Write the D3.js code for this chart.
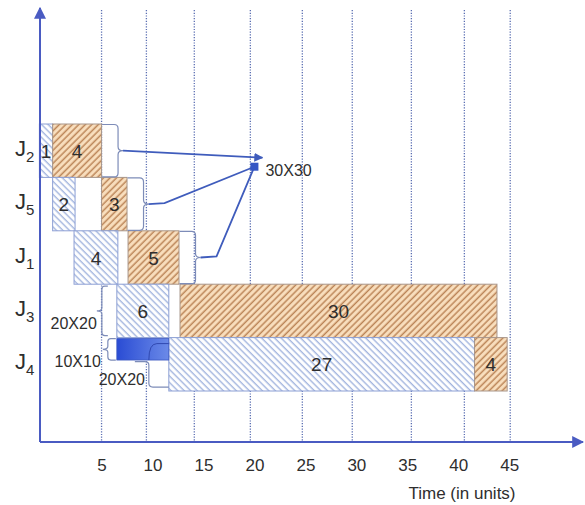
<!DOCTYPE html>
<html><head><meta charset="utf-8">
<script src="https://cdn.jsdelivr.net/npm/d3@7"></script>
<style>body{margin:0;background:#fff}svg{display:block}</style>
</head><body><svg id="c" width="585" height="505"></svg>
<script>
// ---------- data ----------
const jobs = ['J2','J5','J1','J3','J4'];
const opJob   = ['J2','J2','J5','J5','J1','J1','J3','J3','J4','J4'];
const opStart = [-1.1, 0.2, 0.2, 5.0, 2.3, 7.6, 6.5, 12.7, 11.6, 41.6];
const opEnd   = [ 0.2, 5.0, 2.4, 7.5, 6.6, 12.6, 11.6, 43.8, 41.6, 44.8];
const opLabel = ['1','4','2','3','4','5','6','30','27','4'];
const opKind  = ['blue','orange','blue','orange','blue','orange','blue','orange','blue','orange'];
const xTicks = [5,10,15,20,25,30,35,40,45];
const gridAt = [5, 9.4, 14.1, 19.6, 24.7, 29.6, 35.4, 40.6, 45.1];
const xTitle = 'Time (in units)';
const smallJob = 'J4', smallStart = 6.5, smallEnd = 11.6;
const mergeJobs = ['J2','J5','J1'];
const mergeAt = 20, mergeLabel = '30X30';
const noteLabels = ['20X20','10X10','20X20'];

// ---------- layout ----------
const svg = d3.select('#c');
const FONT = '"Liberation Sans", Arial, Helvetica, sans-serif';
const axisX = 40, axisY = 442, topY = 8, rightX = 583;
const x = d3.scaleLinear().domain([0,45]).range([50.6, 509.2]);
const y = d3.scaleBand().domain(jobs).range([124, 391]).padding(0);
const bw = y.bandwidth();
const axisCol = '#4a5bc2', lineCol = '#3f5cbc', braceCol = '#7d8cb8', txtCol = '#2e2e2e';

const defs = svg.append('defs');
function hatch(id, bg, fg, angle, w){
  const p = defs.append('pattern').attr('id', id).attr('patternUnits','userSpaceOnUse')
    .attr('width', 4.6).attr('height', 4.6).attr('patternTransform', `rotate(${angle})`);
  p.append('rect').attr('width', 4.6).attr('height', 4.6).attr('fill', bg);
  p.append('line').attr('x1', 1.2).attr('x2', 1.2).attr('y1', 0).attr('y2', 4.6)
    .attr('stroke', fg).attr('stroke-width', w);
}
hatch('hb', '#ffffff', '#a2b4de', -45, 1.4);
hatch('ho', '#f9dfbe', '#bb8456', 45, 1.5);
const g = defs.append('linearGradient').attr('id','gdark').attr('x1',0).attr('x2',1).attr('y1',0).attr('y2',0);
g.append('stop').attr('offset','0%').attr('stop-color','#2a4cd4');
g.append('stop').attr('offset','100%').attr('stop-color','#6b8ae8');
defs.append('marker').attr('id','ah').attr('viewBox','0 0 10 10').attr('refX',9).attr('refY',5)
  .attr('markerWidth',6).attr('markerHeight',6).attr('orient','auto')
  .append('path').attr('d','M0,0L10,5L0,10z').attr('fill', axisCol);
defs.append('marker').attr('id','ah2').attr('viewBox','0 0 10 10').attr('refX',9).attr('refY',5)
  .attr('markerWidth',5).attr('markerHeight',5).attr('orient','auto')
  .append('path').attr('d','M0,0L10,5L0,10z').attr('fill', lineCol);

// gridlines
svg.append('g').selectAll('line').data(gridAt).join('line')
  .attr('x1', d => x(d)).attr('x2', d => x(d)).attr('y1', 10).attr('y2', axisY)
  .attr('stroke', '#5a6eb2').attr('stroke-width', 1.3).attr('stroke-dasharray', '1.2,1.5');

// bars
const ops = opJob.map((j,i) => ({job:j, s:opStart[i], e:opEnd[i], label:opLabel[i], kind:opKind[i]}));
const bars = svg.append('g');
bars.selectAll('rect').data(ops).join('rect')
  .attr('x', d => x(d.s)).attr('y', d => y(d.job))
  .attr('width', d => x(d.e) - x(d.s)).attr('height', bw)
  .attr('fill', d => d.kind === 'blue' ? 'url(#hb)' : 'url(#ho)')
  .attr('stroke', d => d.kind === 'blue' ? '#8c9fd4' : '#a8968a').attr('stroke-width', 1);
bars.selectAll('text').data(ops).join('text')
  .attr('x', d => (x(d.s) + x(d.e)) / 2).attr('y', d => y(d.job) + bw/2 + 7)
  .attr('text-anchor','middle').attr('font-family', FONT).attr('font-size', 19).attr('fill', txtCol)
  .text(d => d.label);

// small dark block (10X10)
const bx0 = x(smallStart), bx1 = x(smallEnd), by0 = y(smallJob) + 1, by1 = y(smallJob) + bw*0.42;
svg.append('rect').attr('x', bx0).attr('y', by0).attr('width', bx1-bx0).attr('height', by1-by0)
  .attr('fill', 'url(#gdark)').attr('stroke', '#3a56c0').attr('stroke-width', 0.8);
svg.append('path').attr('d', `M${bx0+32},${by1} Q${bx0+32},${by0+5} ${bx0+40},${by0+5} L${bx1},${by0+5}`)
  .attr('fill','none').attr('stroke','#3048b0').attr('stroke-width', 1);

// braces
function braceR(x0, yt, yb, arm){
  const xa = x0 + arm, ym = (yt+yb)/2;
  return `M${x0},${yt} L${xa-4},${yt} Q${xa},${yt} ${xa},${yt+4} L${xa},${ym-4} Q${xa},${ym} ${xa+5},${ym}` +
         ` Q${xa},${ym} ${xa},${ym+4} L${xa},${yb-4} Q${xa},${yb} ${xa-4},${yb} L${x0},${yb}`;
}
function braceL(x0, yt, yb, arm){
  const xa = x0 - arm, ym = (yt+yb)/2;
  return `M${x0},${yt} L${xa+3},${yt} Q${xa},${yt} ${xa},${yt+3} L${xa},${ym-3} Q${xa},${ym} ${xa-5},${ym}` +
         ` Q${xa},${ym} ${xa},${ym+3} L${xa},${yb-3} Q${xa},${yb} ${xa+3},${yb} L${x0},${yb}`;
}
const tx = x(mergeAt), ty = y('J2') + bw*0.8;
mergeJobs.forEach((j, k) => {
  const endV = d3.max(ops.filter(o => o.job === j), o => o.e);
  const x0 = x(endV) + 0.5, yt = y(j) + 0.5, yb = y(j) + bw - 0.5;
  svg.append('path').attr('d', braceR(x0, yt, yb, 16)).attr('fill','none')
    .attr('stroke', braceCol).attr('stroke-width', 1.2);
  const tipX = x0 + 21, tipY = (yt+yb)/2;
  if (k === 0) {
    svg.append('line').attr('x1', tipX).attr('y1', tipY).attr('x2', tx + 8).attr('y2', ty - 9)
      .attr('stroke', lineCol).attr('stroke-width', 1.8).attr('marker-end','url(#ah2)');
  } else {
    svg.append('path').attr('d', `M${tipX},${tipY} L${tipX+16},${tipY-1} L${tx},${ty}`)
      .attr('fill','none').attr('stroke', lineCol).attr('stroke-width', 1.8);
  }
});
svg.append('rect').attr('x', tx-4).attr('y', ty-4).attr('width', 8).attr('height', 8).attr('fill', '#3556c4');
svg.append('text').attr('x', tx + 11).attr('y', ty + 9).attr('font-family', FONT).attr('font-size', 16)
  .attr('fill', txtCol).text(mergeLabel);

{
  const x0 = x(6.5) - 9, yt = y('J3') + 2, yb = y('J3') + bw - 2, ym = (yt+yb)/2;
  svg.append('path').attr('d', braceL(x0, yt, yb, 6)).attr('fill','none').attr('stroke', braceCol).attr('stroke-width', 1.2);
  svg.append('text').attr('x', x0 - 11).attr('y', ym + 18).attr('text-anchor','end')
    .attr('font-family', FONT).attr('font-size', 16).attr('fill', txtCol).text(noteLabels[0]);
}
{
  const x0 = bx0 - 1, ym = (by0+by1)/2;
  svg.append('path').attr('d', braceL(x0, by0, by1, 8)).attr('fill','none').attr('stroke', braceCol).attr('stroke-width', 1.2);
  svg.append('text').attr('x', x0 - 15).attr('y', ym + 18).attr('text-anchor','end')
    .attr('font-family', FONT).attr('font-size', 16).attr('fill', txtCol).text(noteLabels[1]);
}
{
  svg.append('path').attr('d', `M${bx0+18},${by1+1.5} L${bx0+28},${by1+1.5} Q${bx0+32},${by1+1.5} ${bx0+32},${by1+5} L${bx0+32},${by1+23} Q${bx0+32},${by1+27} ${bx0+36},${by1+27} L${bx1},${by1+27}`)
    .attr('fill','none').attr('stroke', braceCol).attr('stroke-width', 1.2);
  svg.append('text').attr('x', bx0 + 5).attr('y', by1 + 25).attr('text-anchor','middle')
    .attr('font-family', FONT).attr('font-size', 16).attr('fill', txtCol).text(noteLabels[2]);
}

// axes
svg.append('line').attr('x1', axisX).attr('y1', axisY).attr('x2', rightX).attr('y2', axisY)
  .attr('stroke', axisCol).attr('stroke-width', 2).attr('marker-end','url(#ah)');
svg.append('line').attr('x1', axisX).attr('y1', axisY).attr('x2', axisX).attr('y2', topY)
  .attr('stroke', axisCol).attr('stroke-width', 2).attr('marker-end','url(#ah)');

const xa = svg.append('g').attr('transform', `translate(0,${axisY})`)
  .call(d3.axisBottom(x).tickValues(xTicks).tickSize(0).tickPadding(17).tickFormat(d3.format('d')));
xa.select('.domain').remove();
xa.selectAll('text').attr('font-family', FONT).attr('font-size', 17).attr('fill', txtCol);

svg.append('text').attr('x', 462).attr('y', 499).attr('text-anchor','middle')
  .attr('font-family', FONT).attr('font-size', 17).attr('fill', txtCol).text(xTitle);

// job labels
const jl = svg.append('g').selectAll('text').data(jobs).join('text')
  .attr('x', 15).attr('y', d => y(d) + bw/2 + 5)
  .attr('font-family', FONT).attr('fill', txtCol);
jl.append('tspan').attr('font-size', 22).text(d => d[0]);
jl.append('tspan').attr('font-size', 15).attr('dy', 6).text(d => d.slice(1));
</script>
</body></html>
